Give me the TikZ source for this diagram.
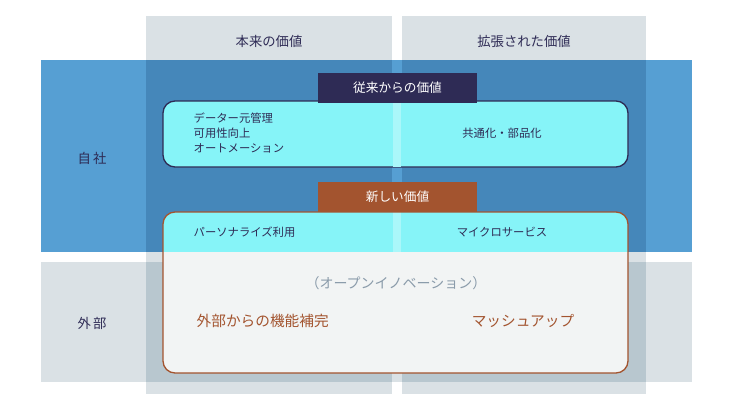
\documentclass[tikz,border=0pt]{standalone}
\usepackage{fontspec}
\setmainfont{Noto Sans CJK JP}
\definecolor{colg}{HTML}{DAE1E5}
\definecolor{bandb}{HTML}{569FD3}
\definecolor{ovb}{HTML}{4587BA}
\definecolor{ovg}{HTML}{B8C7CF}
\definecolor{navy}{HTML}{2E2B55}
\definecolor{brn}{HTML}{A3542F}
\definecolor{cyanb}{HTML}{86F4F8}
\definecolor{cyanl}{HTML}{AAF7FA}
\definecolor{boxg}{HTML}{F2F4F4}
\definecolor{graytxt}{HTML}{8A9BAA}
\begin{document}
\begin{tikzpicture}[x=0.75pt,y=-0.75pt,
  hdr/.style={font=\fontsize{10}{12}\selectfont,text=navy},
  lab/.style={fill=#1,text=white,minimum width=119.25pt,minimum height=22.5pt,inner sep=0pt,font=\fontsize{9.5}{11}\selectfont},
  itm/.style={font=\fontsize{8.5}{11}\selectfont,text=navy},
  big/.style={font=\fontsize{11}{13}\selectfont,text=brn}]
\useasboundingbox (0,0) rectangle (738,415);
% columns
\fill[colg] (146,16) rectangle (392,394);
\fill[colg] (402,16) rectangle (646,394);
% bands
\fill[bandb] (41,60) rectangle (692,252);
\fill[colg] (41,262) rectangle (692,382);
\fill[ovb] (146,60) rectangle (392,252);
\fill[ovb] (402,60) rectangle (646,252);
\fill[ovg] (146,262) rectangle (392,382);
\fill[ovg] (402,262) rectangle (646,382);
% headers
\node[hdr] (h1) at (269,41) {本来の価値};
\node[hdr] (h2) at (524,41) {拡張された価値};
\node[hdr] (r1) at (92,158) {自\,社};
\node[hdr] (r2) at (92,323) {外\,部};
% box 1
\draw[navy,line width=1pt,fill=cyanb,rounded corners=9pt] (163,101) rectangle (628,167);
\fill[cyanl] (393,102) rectangle (401,166.5);
\node[lab=navy] (l1) at (397.5,88) {従来からの価値};
\node[itm,anchor=west,align=left] (t1) at (189,133) {データー元管理\\可用性向上\\オートメーション};
\node[itm] (t2) at (502,133) {共通化・部品化};
% box 2
\begin{scope}
\clip[rounded corners=9pt] (163,212) rectangle (628,373);
\fill[boxg] (163,212) rectangle (628,373);
\fill[cyanb] (163,212) rectangle (628,252);
\fill[cyanl] (393,212) rectangle (401,252);
\end{scope}
\draw[brn,line width=1pt,rounded corners=9pt] (163,212) rectangle (628,373);
\node[lab=brn] (l2) at (397.5,197) {新しい価値};
\node[itm,anchor=west] (t3) at (189,232) {パーソナライズ利用};
\node[itm] (t4) at (502,232) {マイクロサービス};
\node[font=\fontsize{10.5}{12}\selectfont,text=graytxt] (t5) at (396,283) {（オープンイノベーション）};
\node[big,anchor=west] (t6) at (192,321) {外部からの機能補完};
\node[big] (t7) at (523,321) {マッシュアップ};
\end{tikzpicture}
\end{document}
